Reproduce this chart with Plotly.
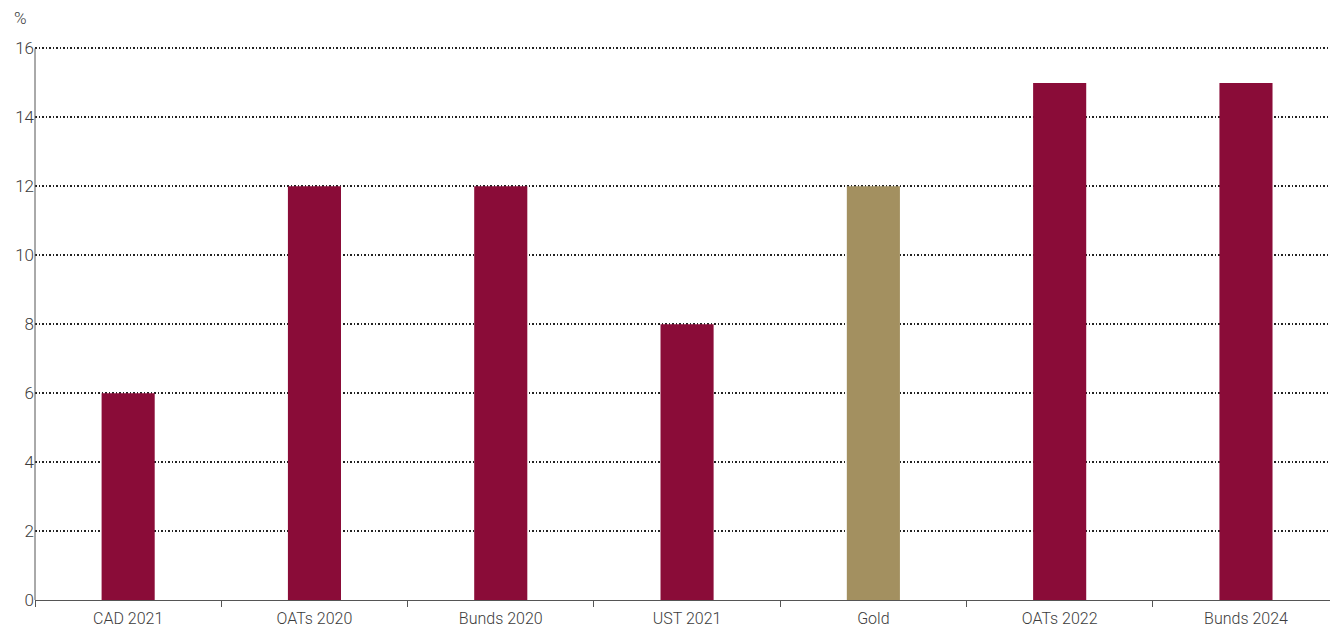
import plotly.graph_objects as go

categories = ["CAD 2021", "OATs 2020", "Bunds 2020", "UST 2021", "Gold", "OATs 2022", "Bunds 2024"]
values = [6, 12, 12, 8, 12, 15, 15]
bar_colors = ["#8a0c38", "#8a0c38", "#8a0c38", "#8a0c38", "#a39060", "#8a0c38", "#8a0c38"]
y_ticks = [0, 2, 4, 6, 8, 10, 12, 14, 16]

font_family = "Roboto, Liberation Sans, Arial, sans-serif"
text_color = "#3c3c3c"
axis_color = "#555555"

fig = go.Figure(
    go.Bar(
        x=categories,
        y=values,
        marker=dict(color=bar_colors, line=dict(width=0)),
        width=0.285,
        hoverinfo="x+y",
    )
)

fig.update_layout(
    width=1330,
    height=628,
    margin=dict(l=35, r=0, t=45, b=28),
    plot_bgcolor="white",
    paper_bgcolor="white",
    showlegend=False,
    font=dict(family=font_family, size=16, color=text_color, weight=300),
    xaxis=dict(
        type="category",
        range=[-0.5, 6.451],
        tickson="boundaries",
        ticks="outside",
        ticklen=6,
        tickcolor=axis_color,
        tickwidth=1,
        ticklabelstandoff=4,
        showline=True,
        linecolor=axis_color,
        linewidth=1,
        showgrid=False,
        tickfont=dict(size=16, color=text_color, family=font_family, weight=300),
    ),
    yaxis=dict(
        range=[0, 16.1],
        tickvals=y_ticks,
        showline=False,
        ticks="",
        showgrid=True,
        gridcolor="#222222",
        griddash="1.5px,2px",
        gridwidth=1.5,
        zeroline=False,
        tickfont=dict(size=17, color=text_color, family=font_family, weight=300),
    ),
    # vertical axis line running from 0 up to the top tick only
    shapes=[
        dict(
            type="line",
            xref="paper",
            yref="y",
            x0=0,
            x1=0,
            y0=0,
            y1=y_ticks[-1],
            line=dict(color=axis_color, width=1),
            layer="above",
        )
    ],
    annotations=[
        dict(
            text="%",
            xref="paper",
            yref="paper",
            x=-0.018,
            y=1.0,
            yshift=27,
            xanchor="left",
            yanchor="middle",
            showarrow=False,
            font=dict(size=17, color=text_color, family=font_family, weight=300),
        )
    ],
)

fig.write_html("out.html")
